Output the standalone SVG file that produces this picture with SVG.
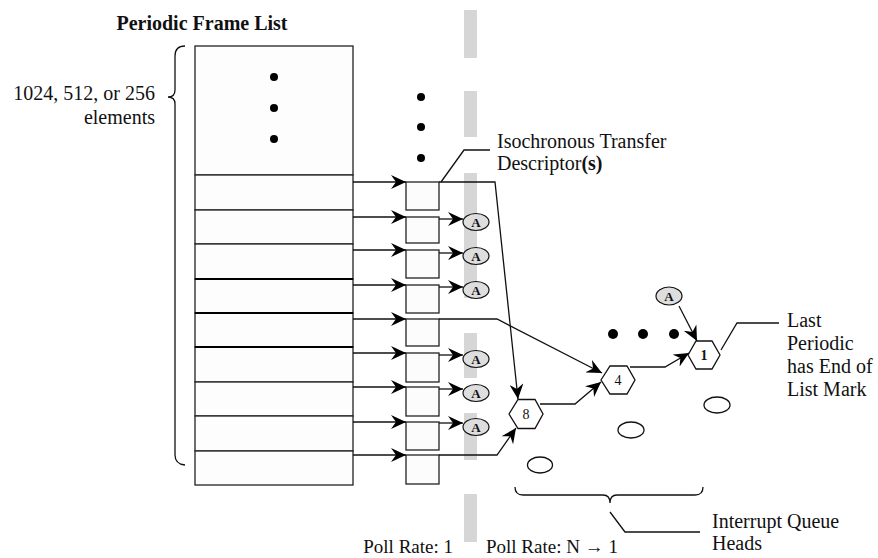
<svg xmlns="http://www.w3.org/2000/svg" width="878" height="558" viewBox="0 0 878 558">
<defs>
<style>
text{font-family:"Liberation Serif","Times New Roman",serif;fill:#111}
.t{font-size:20px}
.b{font-weight:bold}
.ln{fill:none;stroke:#111;stroke-width:1.3}
.row{fill:#fdfdfd;stroke:#222;stroke-width:1.3}
.td{fill:#fcfcfc;stroke:#222;stroke-width:1.3}
.ea{fill:#dedede;stroke:#111;stroke-width:1.2}
.al{font-size:13px;font-weight:bold;text-anchor:middle}
.hex{fill:#fff;stroke:#111;stroke-width:1.3}
.hn{font-size:14px;text-anchor:middle}
.gray{fill:#d6d6d6}
.dot{fill:#000}
.q{fill:#fff;stroke:#111;stroke-width:1.3}
</style>
<marker id="ah" markerWidth="16" markerHeight="14" refX="15" refY="7" orient="auto" markerUnits="userSpaceOnUse">
<path d="M0,0 L15,7 L0,14 L5,7 z" fill="#000"/>
</marker>
</defs>
<rect width="878" height="558" fill="#fff"/>

<g id="poll-divider">
<rect class="gray" x="464" y="10" width="13" height="48"/>
<rect class="gray" x="464" y="91" width="13" height="46"/>
<rect class="gray" x="464" y="173" width="13" height="125"/>
<rect class="gray" x="464" y="333" width="13" height="45"/>
<rect class="gray" x="464" y="413" width="13" height="47"/>
<rect class="gray" x="464" y="494" width="13" height="48"/>
</g>

<g id="title"><text class="t b" x="202" y="30" text-anchor="middle">Periodic Frame List</text></g>

<g id="frame-list">
<rect class="row" x="195" y="46" width="158" height="129"/>
<rect class="row" x="195" y="175" width="158" height="35"/>
<rect class="row" x="195" y="210" width="158" height="34"/>
<rect class="row" x="195" y="244" width="158" height="35"/>
<rect class="row" x="195" y="279" width="158" height="34"/>
<rect class="row" x="195" y="313" width="158" height="34"/>
<rect class="row" x="195" y="347" width="158" height="35"/>
<rect class="row" x="195" y="382" width="158" height="34"/>
<rect class="row" x="195" y="416" width="158" height="35"/>
<rect class="row" x="195" y="451" width="158" height="34"/>
<line x1="195" y1="279" x2="353" y2="279" stroke="#000" stroke-width="2"/>
<line x1="195" y1="313" x2="353" y2="313" stroke="#000" stroke-width="2"/>
<line x1="195" y1="347" x2="353" y2="347" stroke="#000" stroke-width="2"/>
<circle class="dot" cx="274" cy="77" r="4"/>
<circle class="dot" cx="274" cy="108" r="4"/>
<circle class="dot" cx="274" cy="139" r="4"/>
</g>

<g id="size-brace">
<path class="ln" d="M185,46 Q175,46 175,56 L175,90 Q175,97 168,97 Q175,97 175,104 L175,455 Q175,464 185,465"/>
<text class="t" x="155" y="100" text-anchor="end">1024, 512, or 256</text>
<text class="t" x="155" y="124" text-anchor="end">elements</text>
</g>

<g id="td-column">
<circle class="dot" cx="421" cy="97" r="4"/>
<circle class="dot" cx="421" cy="127" r="4"/>
<circle class="dot" cx="421" cy="158" r="4"/>
<rect class="td" x="406" y="182" width="33" height="28"/>
<rect class="td" x="406" y="217" width="33" height="26"/>
<rect class="td" x="406" y="250" width="33" height="28"/>
<rect class="td" x="406" y="285" width="33" height="28"/>
<rect class="td" x="406" y="319" width="33" height="27"/>
<rect class="td" x="406" y="353" width="33" height="29"/>
<rect class="td" x="406" y="387" width="33" height="29"/>
<rect class="td" x="406" y="422" width="33" height="28"/>
<rect class="td" x="406" y="455" width="33" height="29"/>
</g>

<g id="td-label">
<text class="t" x="497" y="148">Isochronous Transfer</text>
<text class="t" x="497" y="170">Descriptor<tspan class="b">(s)</tspan></text>
</g>

<g id="a-nodes">
<ellipse class="ea" cx="476" cy="222" rx="13" ry="8.5"/><text class="al" x="476" y="226.5">A</text>
<ellipse class="ea" cx="476" cy="256" rx="13" ry="8.5"/><text class="al" x="476" y="260.5">A</text>
<ellipse class="ea" cx="476" cy="290" rx="13" ry="8.5"/><text class="al" x="476" y="294.5">A</text>
<ellipse class="ea" cx="476" cy="359" rx="13" ry="8.5"/><text class="al" x="476" y="363.5">A</text>
<ellipse class="ea" cx="476" cy="393" rx="13" ry="8.5"/><text class="al" x="476" y="397.5">A</text>
<ellipse class="ea" cx="476" cy="427" rx="13" ry="8.5"/><text class="al" x="476" y="431.5">A</text>
<ellipse class="ea" cx="669" cy="296" rx="13" ry="9"/><text class="al" x="669" y="300.5">A</text>
</g>

<g id="qh-8"><polygon class="hex" points="509,414 518,399.5 535,399.5 543,414 535,428.5 518,428.5"/><text class="hn" x="526" y="419" fill="#555">8</text></g>
<g id="qh-4"><polygon class="hex" points="601,380 610,366 627,366 635,380 627,394 610,394"/><text class="hn" x="618" y="385" fill="#555">4</text></g>
<g id="qh-1"><polygon class="hex" points="688,355 696,341 712,341 720,355 712,369 696,369"/><text class="hn b" x="704" y="360">1</text></g>

<g id="queue-heads">
<ellipse class="q" cx="540" cy="465" rx="12.5" ry="8"/>
<ellipse class="q" cx="631" cy="430" rx="13" ry="8"/>
<ellipse class="q" cx="717" cy="405" rx="13" ry="8"/>
<circle class="dot" cx="613" cy="334" r="5"/>
<circle class="dot" cx="643" cy="334" r="5"/>
<circle class="dot" cx="674" cy="334" r="5"/>
</g>

<g id="connectors">
<line class="ln" x1="353" y1="182" x2="406" y2="182" marker-end="url(#ah)"/>
<line class="ln" x1="353" y1="217" x2="406" y2="217" marker-end="url(#ah)"/>
<line class="ln" x1="353" y1="250" x2="406" y2="250" marker-end="url(#ah)"/>
<line class="ln" x1="353" y1="285" x2="406" y2="285" marker-end="url(#ah)"/>
<line class="ln" x1="353" y1="319" x2="406" y2="319" marker-end="url(#ah)"/>
<line class="ln" x1="353" y1="353" x2="406" y2="353" marker-end="url(#ah)"/>
<line class="ln" x1="353" y1="387" x2="406" y2="387" marker-end="url(#ah)"/>
<line class="ln" x1="353" y1="422" x2="406" y2="422" marker-end="url(#ah)"/>
<line class="ln" x1="353" y1="455" x2="406" y2="455" marker-end="url(#ah)"/>
<line class="ln" x1="439" y1="219" x2="463" y2="219" marker-end="url(#ah)"/>
<line class="ln" x1="439" y1="253" x2="463" y2="253" marker-end="url(#ah)"/>
<line class="ln" x1="439" y1="287" x2="463" y2="287" marker-end="url(#ah)"/>
<line class="ln" x1="439" y1="355" x2="463" y2="355" marker-end="url(#ah)"/>
<line class="ln" x1="439" y1="389" x2="463" y2="389" marker-end="url(#ah)"/>
<line class="ln" x1="439" y1="423" x2="463" y2="423" marker-end="url(#ah)"/>
<polyline class="ln" points="439,182 495,182 518,399" marker-end="url(#ah)"/>
<polyline class="ln" points="439,319 497,319 602,373" marker-end="url(#ah)"/>
<polyline class="ln" points="439,455 497,455 516,428" marker-end="url(#ah)"/>
<polyline class="ln" points="540,404 575,404 601,382" marker-end="url(#ah)"/>
<polyline class="ln" points="630,367 665,367 689,353" marker-end="url(#ah)"/>
<line class="ln" x1="679" y1="306" x2="697" y2="341" marker-end="url(#ah)"/>
<polyline class="ln" points="721,350 737,323 779,323"/>
<polyline class="ln" points="490,150 464,150 441,182"/>
<path class="ln" d="M515,487 Q515,495 523,495 L603,495 Q610,495 610,503 Q610,495 617,495 L695,495 Q703,495 703,487"/>
<polyline class="ln" points="610,512 625,532 700,532"/>
</g>

<g id="labels">
<text class="t" x="787" y="327">Last</text>
<text class="t" x="787" y="350">Periodic</text>
<text class="t" x="787" y="373">has End of</text>
<text class="t" x="787" y="396">List Mark</text>
<text class="t" x="712" y="528">Interrupt Queue</text>
<text class="t" x="712" y="550">Heads</text>
<text x="453" y="553" font-size="19" text-anchor="end">Poll Rate: 1</text>
<text x="486" y="553" font-size="19">Poll Rate: N → 1</text>
</g>
</svg>
